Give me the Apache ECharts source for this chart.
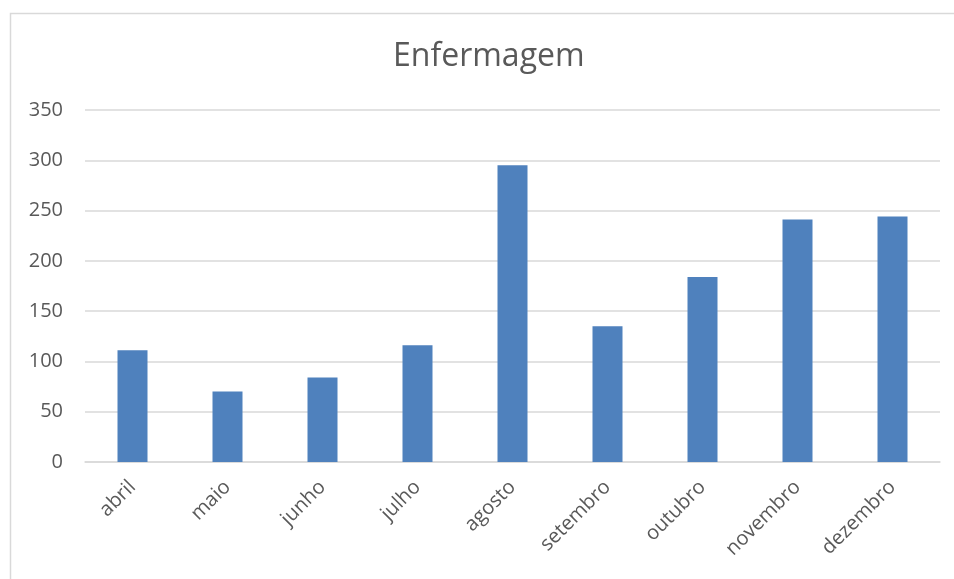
<!DOCTYPE html>
<html>
<head>
<meta charset="utf-8">
<script src="https://cdn.jsdelivr.net/npm/echarts@6/dist/echarts.min.js"></script>
<style>
  html, body { margin: 0; padding: 0; background: #fff; }
  #chart { width: 954px; height: 579px; }
</style>
</head>
<body>
<div id="chart"></div>
<script>
const months = ["abril", "maio", "junho", "julho", "agosto", "setembro", "outubro", "novembro", "dezembro"]
const enfermagem = [111, 70, 84, 116, 295, 135, 184, 241, 244]
const yTicks = [0, 50, 100, 150, 200, 250, 300, 350]

const chart = echarts.init(document.getElementById("chart"))

chart.setOption({
	animation: false,
	textStyle: { fontFamily: "Open Sans" },
	// chart frame (only left and top edges show in the picture)
	graphic: [
		{
			type: "rect",
			left: 8,
			top: 11,
			shape: { width: 1000, height: 700 },
			style: { fill: "none", stroke: "#d9d9d9", lineWidth: 1.5 },
			silent: true,
		},
	],
	title: {
		text: "Enfermagem",
		left: 388,
		top: 36,
		textStyle: { fontSize: 32, fontWeight: "normal", color: "#595959", fontFamily: "Open Sans" },
	},
	grid: {
		top: 110,
		right: 14,
		bottom: 117,
		left: 85,
	},
	xAxis: {
		type: "category",
		data: months,
		axisTick: { show: false },
		axisLine: { lineStyle: { color: "#d9d9d9", width: 1.5 } },
		axisLabel: {
			rotate: 45,
			margin: 22,
			fontSize: 20,
			color: "#595959",
			interval: 0,
		},
	},
	yAxis: {
		type: "value",
		min: yTicks[0],
		max: yTicks[yTicks.length - 1],
		interval: 50,
		axisLine: { show: false },
		axisTick: { show: false },
		splitLine: { lineStyle: { color: "#d9d9d9", width: 1.5 } },
		axisLabel: {
			fontSize: 20,
			color: "#595959",
			margin: 22,
		},
	},
	series: [
		{
			name: "Enfermagem",
			type: "bar",
			data: enfermagem,
			barWidth: 30,
			itemStyle: { color: "#4f81bd" },
		},
	],
})
</script>
</body>
</html>
